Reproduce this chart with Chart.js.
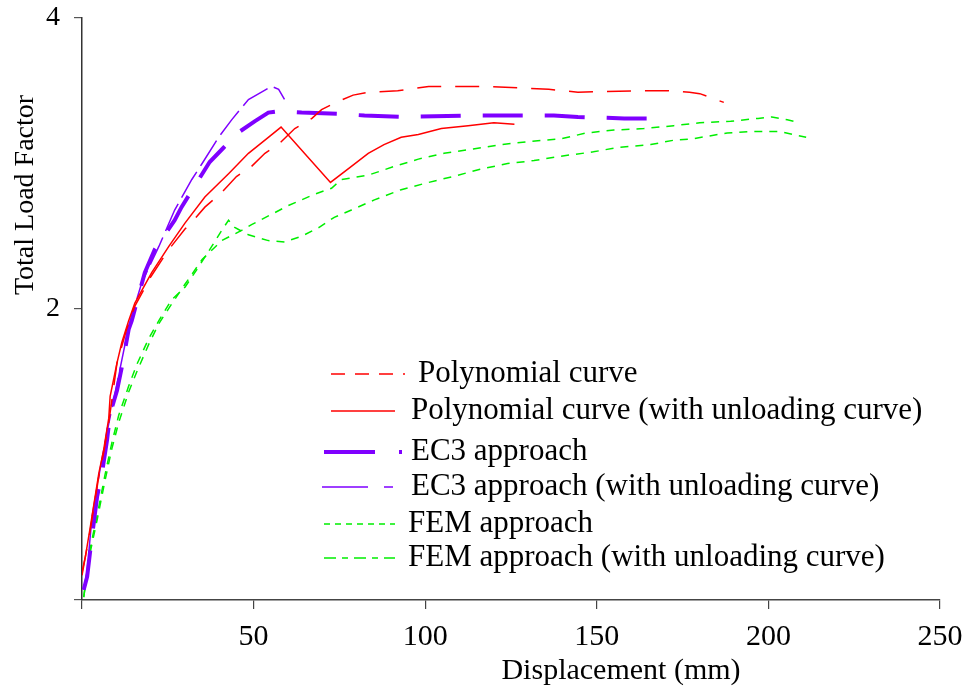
<!DOCTYPE html>
<html>
<head>
<meta charset="utf-8">
<script src="https://cdn.jsdelivr.net/npm/chart.js@4.4.1/dist/chart.umd.min.js"></script>
<style>
html,body{margin:0;padding:0;background:#fff;}
canvas{display:block;}
</style>
</head>
<body>
<canvas id="c" width="972" height="696"></canvas>
<script>
// ---- data ----
const xTicks = [0, 50, 100, 150, 200, 250];
const yTicks = [0, 2, 4];

const polyX = [0, 1, 2.4, 4.9, 6.3, 7.8, 10.2, 13, 15.4, 20, 25, 30, 32.5, 35.8, 40.7, 45, 49.4, 53.3, 57.6, 62, 67, 69.8, 74, 79, 83.4, 92, 101, 108, 118, 127, 136, 144.5, 162, 170.6, 177, 180, 187];
const polyY = [0.19, 0.30, 0.48, 0.85, 1.01, 1.22, 1.63, 1.86, 2.02, 2.22, 2.40, 2.55, 2.61, 2.70, 2.80, 2.91, 2.98, 3.07, 3.14, 3.24, 3.31, 3.37, 3.42, 3.47, 3.49, 3.50, 3.53, 3.53, 3.53, 3.52, 3.51, 3.49, 3.50, 3.50, 3.49, 3.48, 3.42];

const polyUX = [0, 1, 2.4, 4.9, 6.3, 7.8, 8.2, 10.2, 11.6, 13.6, 15.4, 20.3, 25.3, 30, 35.8, 42.7, 48.5, 54.3, 58, 72.4, 78.5, 83.4, 88, 93, 98, 104.7, 112.5, 120, 126];
const polyUY = [0.17, 0.30, 0.50, 0.87, 1.03, 1.25, 1.40, 1.63, 1.77, 1.92, 2.04, 2.25, 2.43, 2.59, 2.77, 2.93, 3.07, 3.18, 3.25, 2.87, 2.98, 3.07, 3.13, 3.18, 3.20, 3.24, 3.26, 3.28, 3.27];

const ec3X = [0.5, 1.5, 2.4, 4.4, 5.8, 7.3, 8.2, 10.2, 11.6, 13.6, 14.5, 18.3, 21.2, 27, 29, 34, 37.2, 41.3, 46, 50.3, 54.3, 57.3, 64, 75.6, 82.3, 93, 115, 123, 137.5, 144.5, 158, 165, 169.5];
const ec3Y = [0.07, 0.16, 0.34, 0.71, 0.87, 1.10, 1.28, 1.44, 1.60, 1.86, 1.92, 2.25, 2.41, 2.61, 2.70, 2.89, 3.01, 3.11, 3.22, 3.29, 3.35, 3.36, 3.35, 3.34, 3.33, 3.32, 3.33, 3.33, 3.33, 3.32, 3.31, 3.31, 3.28];

const ec3UX = [0.5, 1.5, 2.9, 5.2, 7, 9, 11, 13.6, 17.4, 22.4, 27, 32, 35, 39.8, 43.6, 48.5, 52.3, 55.2, 57.3, 59];
const ec3UY = [0.07, 0.20, 0.57, 0.89, 1.12, 1.35, 1.58, 1.88, 2.18, 2.43, 2.68, 2.89, 3.00, 3.18, 3.30, 3.44, 3.49, 3.53, 3.51, 3.44];

const femX = [0.5, 2.4, 4.4, 6.7, 8.7, 10.7, 13.6, 16, 19.5, 22.4, 26, 30, 35, 40.7, 46.5, 49.4, 56, 60, 67.9, 72.7, 75.6, 83.4, 91, 98, 105.5, 114, 122, 130, 139.5, 147, 155, 163.7, 172.4, 180, 189, 197, 201, 205.5, 209];
const femY = [0.02, 0.33, 0.55, 0.82, 1.04, 1.22, 1.43, 1.57, 1.76, 1.90, 2.03, 2.17, 2.34, 2.47, 2.54, 2.58, 2.66, 2.71, 2.79, 2.83, 2.89, 2.92, 2.98, 3.03, 3.07, 3.10, 3.13, 3.15, 3.17, 3.21, 3.23, 3.24, 3.26, 3.28, 3.29, 3.31, 3.32, 3.30, 3.28];

const femUX = [0.5, 2.4, 4.4, 6.7, 8.7, 10.7, 13.6, 16, 19.5, 22.4, 26, 30, 34, 37.8, 40.7, 42.7, 44.5, 48.5, 54.3, 59, 64, 69, 73.5, 78.5, 85.2, 93, 101, 108, 116, 124, 131.7, 139.5, 149, 156, 165.7, 172.4, 178, 188, 195.6, 203.5, 207, 211];
const femUY = [0.02, 0.36, 0.58, 0.86, 1.08, 1.27, 1.47, 1.62, 1.80, 1.92, 2.06, 2.15, 2.29, 2.43, 2.54, 2.61, 2.56, 2.51, 2.47, 2.46, 2.50, 2.56, 2.63, 2.68, 2.75, 2.82, 2.87, 2.91, 2.96, 3.00, 3.02, 3.05, 3.08, 3.11, 3.13, 3.16, 3.17, 3.21, 3.22, 3.22, 3.20, 3.18];

const labels = [
  'Polynomial curve',
  'Polynomial curve (with unloading curve)',
  'EC3 approach',
  'EC3 approach (with unloading curve)',
  'FEM approach',
  'FEM approach (with unloading curve)'
];
const xTitle = 'Displacement (mm)';
const yTitle = 'Total Load Factor';

const pts = (xs, ys) => xs.map((x, i) => ({x: x, y: ys[i]}));

const RED = '#ff0000', PURPLE = '#7f00ff', GREEN = '#00ee00';
const FONT = '"Liberation Serif", "Times New Roman", serif';

const datasets = [
  {label: labels[0], data: pts(polyX, polyY), borderColor: RED, borderWidth: 1.5, borderDash: [24, 14]},
  {label: labels[1], data: pts(polyUX, polyUY), borderColor: RED, borderWidth: 1.5, borderDash: []},
  {label: labels[2], data: pts(ec3X, ec3Y), borderColor: PURPLE, borderWidth: 4, borderDash: [40, 22]},
  {label: labels[3], data: pts(ec3UX, ec3UY), borderColor: PURPLE, borderWidth: 1.5, borderDash: [30, 7]},
  {label: labels[4], data: pts(femX, femY), borderColor: GREEN, borderWidth: 1.5, borderDash: [8, 7]},
  {label: labels[5], data: pts(femUX, femUY), borderColor: GREEN, borderWidth: 1.5, borderDash: [8, 7]}
].map(d => Object.assign(d, {showLine: true, pointRadius: 0, fill: false, tension: 0}));

// legend layout (positions in pixels)
const legendRows = [
  {y: 374, x0: 331, x1: 405, tx: 418, dash: [14, 10]},
  {y: 411, x0: 331, x1: 395, tx: 411, dash: []},
  {y: 452, x0: 324, x1: 402, tx: 411, dash: [51, 24]},
  {y: 487, x0: 322, x1: 393, tx: 411, dash: [46, 16]},
  {y: 524, x0: 324, x1: 395, tx: 408, dash: [6, 5]},
  {y: 558, x0: 324, x1: 395, tx: 408, dash: [12, 6, 6, 6]}
];

const decor = {
  id: 'decor',
  afterDraw(chart) {
    const ctx = chart.ctx;
    ctx.save();
    // legend
    chart.data.datasets.forEach((ds, i) => {
      const r = legendRows[i];
      ctx.beginPath();
      ctx.strokeStyle = ds.borderColor;
      ctx.lineWidth = ds.borderWidth;
      ctx.setLineDash(r.dash);
      ctx.moveTo(r.x0, r.y);
      ctx.lineTo(r.x1, r.y);
      ctx.stroke();
      ctx.setLineDash([]);
      ctx.fillStyle = '#000';
      ctx.font = '31px ' + FONT;
      ctx.textBaseline = 'middle';
      ctx.textAlign = 'left';
      ctx.fillText(ds.label, r.tx, r.y);
    });
    // axis titles
    ctx.fillStyle = '#000';
    ctx.font = '30px ' + FONT;
    ctx.textAlign = 'center';
    ctx.textBaseline = 'middle';
    ctx.fillText(xTitle, 621, 671);
    ctx.translate(26, 195);
    ctx.rotate(-Math.PI / 2);
    ctx.font = '28px ' + FONT;
    ctx.fillText(yTitle, 0, 0);
    ctx.restore();
  }
};

new Chart(document.getElementById('c'), {
  type: 'scatter',
  data: {datasets: datasets},
  plugins: [decor],
  options: {
    responsive: false,
    animation: false,
    devicePixelRatio: 1,
    layout: {padding: {top: 18, right: 32, left: 0, bottom: 0}},
    plugins: {legend: {display: false}, tooltip: {enabled: false}},
    scales: {
      x: {
        type: 'linear', min: xTicks[0], max: xTicks[xTicks.length - 1],
        afterFit(s) { s.height = 96; s.paddingLeft = 0; s.paddingRight = 0; },
        afterBuildTicks(s) { s.ticks = xTicks.map(v => ({value: v})); },
        border: {display: true, color: '#444', width: 1.5},
        grid: {drawOnChartArea: false, drawTicks: true, tickLength: 9, color: '#444', lineWidth: 1.2},
        ticks: {
          padding: 10, color: '#000', font: {family: FONT, size: 30}, maxRotation: 0,
          callback: v => (v === 0 ? '' : String(v))
        }
      },
      y: {
        type: 'linear', min: yTicks[0], max: yTicks[yTicks.length - 1],
        afterFit(s) { s.width = 82; s.paddingTop = 0; s.paddingBottom = 0; },
        afterBuildTicks(s) { s.ticks = yTicks.map(v => ({value: v})); },
        border: {display: true, color: '#333', width: 1.5},
        grid: {drawOnChartArea: false, drawTicks: true, tickLength: 8, color: '#555', lineWidth: 1.2},
        ticks: {
          padding: 14, color: '#000', font: {family: FONT, size: 28},
          callback: v => (v === 0 ? '' : String(v))
        }
      }
    }
  }
});
</script>
</body>
</html>
